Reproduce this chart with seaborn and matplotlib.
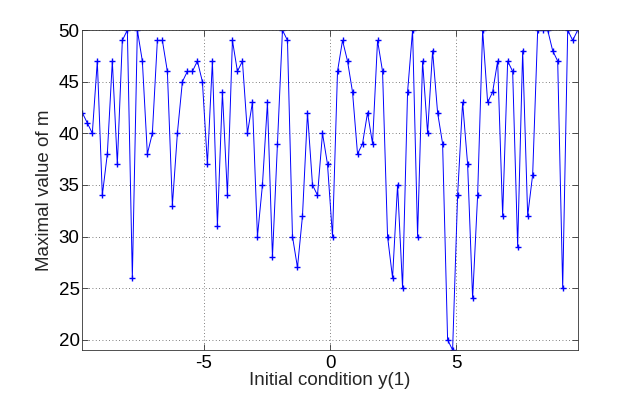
import numpy as np
import pandas as pd
import seaborn as sns
import matplotlib
matplotlib.use("Agg")
import matplotlib.pyplot as plt

# Data
initial_condition = np.linspace(-9.8, 9.8, 100)
max_m = [42, 41, 40, 47, 34, 38, 47, 37, 49, 50,
         26, 50, 47, 38, 40, 49, 49, 46, 33, 40,
         45, 46, 46, 47, 45, 37, 47, 31, 44, 34,
         49, 46, 47, 40, 43, 30, 35, 43, 28, 39,
         50, 49, 30, 27, 32, 42, 35, 34, 40, 37,
         30, 46, 49, 47, 44, 38, 39, 42, 39, 49,
         46, 30, 26, 35, 25, 44, 50, 30, 47, 40,
         48, 42, 39, 20, 19, 34, 43, 37, 24, 34,
         50, 43, 44, 47, 32, 47, 46, 29, 48, 32,
         36, 50, 50, 50, 48, 47, 25, 50, 49, 50]
x_ticks = [-5, 0, 5]
y_ticks = [20, 25, 30, 35, 40, 45, 50]

df = pd.DataFrame({"x": initial_condition, "y": max_m})

sns.set_style("white")
plt.rcParams['font.family'] = ['Liberation Sans', 'DejaVu Sans']

fig = plt.figure(figsize=(6.38, 3.96), dpi=100)
ax = fig.add_axes([0.129, 0.116, 0.7765, 0.808])

sns.lineplot(data=df, x="x", y="y", ax=ax, color=(0, 0, 1), linewidth=0.7,
             marker="+", markersize=4.5, estimator=None, sort=False)
for ln in ax.lines:
    ln.set_markeredgecolor((0, 0, 1))
    ln.set_markerfacecolor((0, 0, 1))
    ln.set_markeredgewidth(1.0)

ax.set_xlim(-9.8, 9.8)
ax.set_ylim(19, 50)
ax.set_xticks(x_ticks)
ax.set_yticks(y_ticks)
ax.set_xticklabels([str(t) for t in x_ticks])
ax.set_yticklabels([str(t) for t in y_ticks])
ax.grid(True, linestyle=(0, (1, 3)), color="#555555", linewidth=0.6)
for s in ax.spines.values():
    s.set_color("#333333")
    s.set_linewidth(0.6)
    s.set_visible(True)
ax.tick_params(direction="in", length=4, width=0.6, colors="#333333",
               labelcolor="black", labelsize=13.5, top=True, right=True,
               bottom=True, left=True)
ax.tick_params(axis="x", pad=3.5)
ax.tick_params(axis="y", pad=2)
ax.set_xlabel("Initial condition y(1)", fontsize=13.5, labelpad=0)
ax.set_ylabel("Maximal value of m", fontsize=13.5, labelpad=4)

fig.savefig("out.png", dpi=100, facecolor="white")
